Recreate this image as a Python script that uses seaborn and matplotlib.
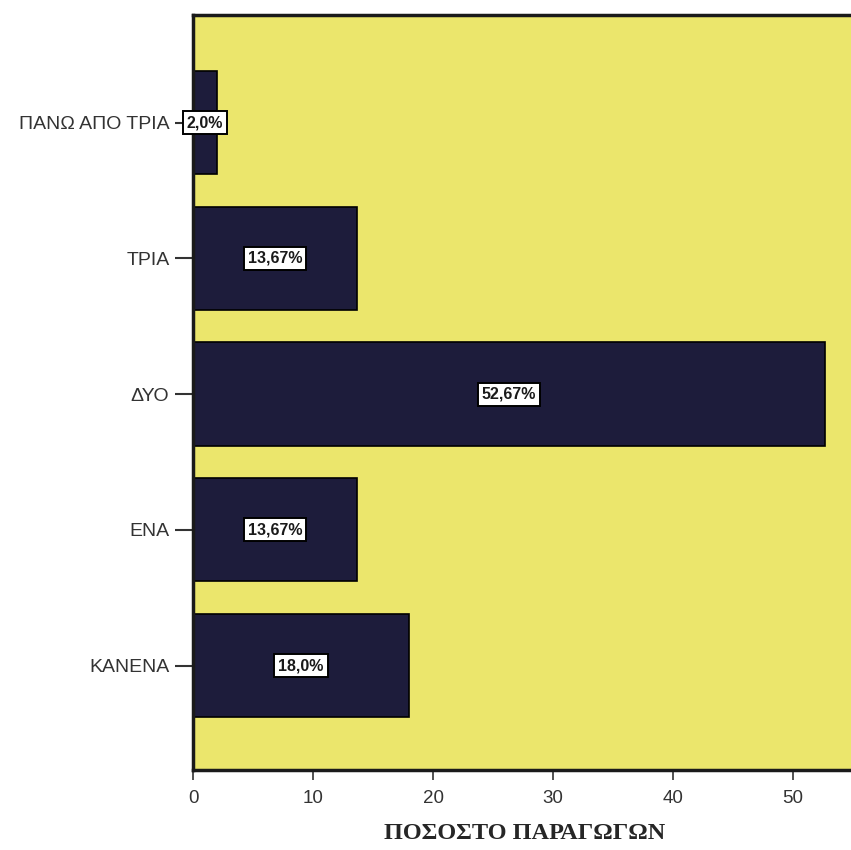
import matplotlib
matplotlib.use("Agg")
import matplotlib.pyplot as plt
import pandas as pd
import seaborn as sns

# ── data ────────────────────────────────────────────────────────────────
categories = ["ΠΑΝΩ ΑΠΟ ΤΡΙΑ", "ΤΡΙΑ", "ΔΥΟ", "ΕΝΑ", "ΚΑΝΕΝΑ"]
percent = [2.0, 13.67, 52.67, 13.67, 18.0]
bar_labels = ["2,0%", "13,67%", "52,67%", "13,67%", "18,0%"]
x_ticks = [0, 10, 20, 30, 40, 50]

BG = "#ebe66c"
BAR = "#1d1c3b"

df = pd.DataFrame({"cat": categories, "pct": percent})

sns.set_style("white")
plt.rcParams["font.family"] = ["Liberation Sans", "DejaVu Sans"]

fig = plt.figure(figsize=(8.51, 8.5), dpi=100)
ax = fig.add_axes([0.2268, 0.094, 0.78, 0.888])
ax.set_facecolor(BG)

sns.barplot(data=df, x="pct", y="cat", orient="h", color=BAR,
            saturation=1, edgecolor="black", linewidth=1.2, width=0.76, ax=ax)

# white boxed value labels in the middle of each bar
for i, (v, lab) in enumerate(zip(percent, bar_labels)):
    ax.text(v / 2, i, lab, ha="center", va="center", fontsize=11.5,
            fontweight="bold", color="#1a1a1a",
            family=["Liberation Sans Narrow", "Liberation Sans", "DejaVu Sans"],
            bbox=dict(boxstyle="square,pad=0.25", fc="white", ec="black", lw=1.4))

ax.set_xlim(0, 55.3)
ax.set_ylim(4.77, -0.79)
ax.set_xticks(x_ticks)
ax.set_xticklabels([str(t) for t in x_ticks], fontsize=13.5, color="#333333")
ax.tick_params(axis="y", labelsize=14, labelcolor="#333333", length=13,
               width=1.5, color="#333333", direction="out", left=True, pad=4)
ax.tick_params(axis="x", length=7, width=1.2, color="#333333",
               direction="out", bottom=True, pad=7)

ax.set_ylabel("")
ax.set_xlabel("ΠΟΣΟΣΤΟ ΠΑΡΑΓΩΓΩΝ", fontsize=17.5, fontweight="bold",
              family=["Liberation Serif", "DejaVu Serif"], labelpad=12)

for side in ["left", "bottom", "top"]:
    ax.spines[side].set_visible(True)
    ax.spines[side].set_color("#1a1a1a")
    ax.spines[side].set_linewidth(2.5)
ax.spines["right"].set_visible(False)

fig.savefig("out.png", dpi=100, facecolor="white")
